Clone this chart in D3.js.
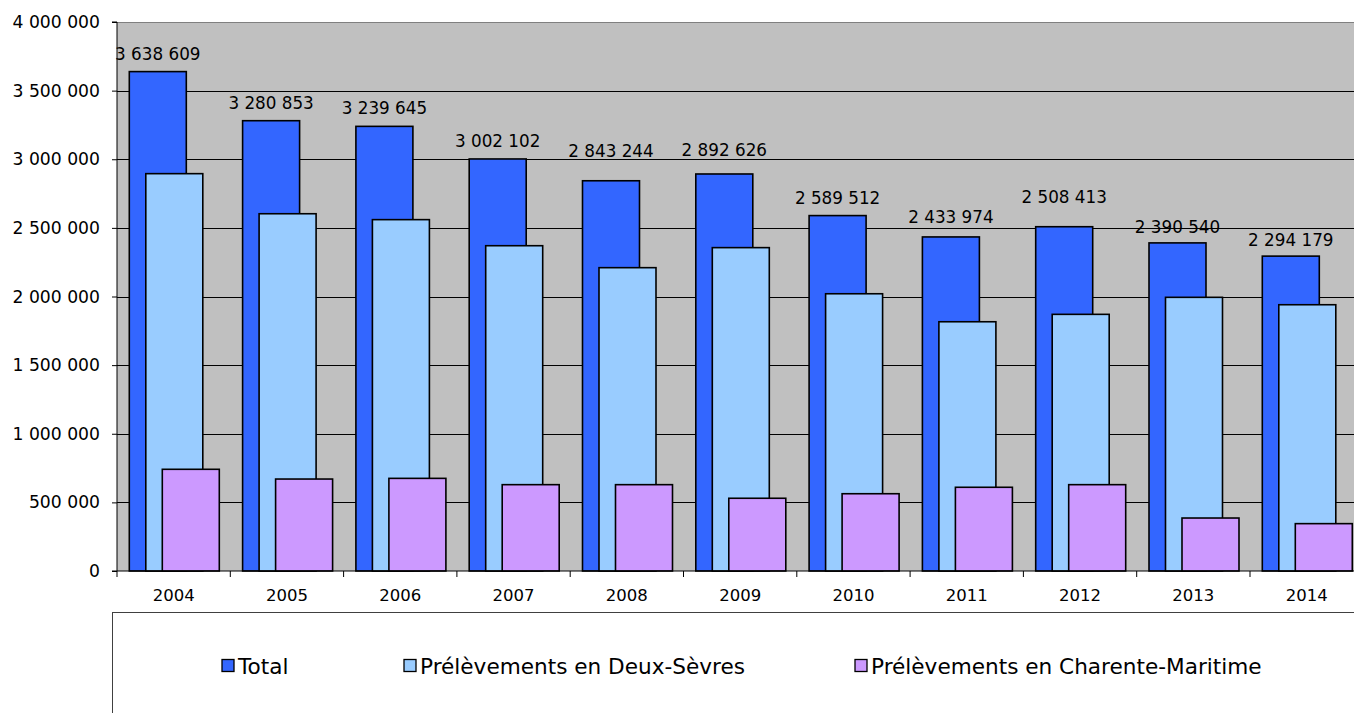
<!DOCTYPE html>
<html>
<head>
<meta charset="utf-8">
<script src="https://cdn.jsdelivr.net/npm/d3@7"></script>
<style>
  html, body { margin: 0; padding: 0; background: #ffffff; overflow: hidden; }
  svg { display: block; }
</style>
</head>
<body>
<svg id="chart" width="1354" height="713"></svg>
<script>
// ---- data ----
const years = ["2004","2005","2006","2007","2008","2009","2010","2011","2012","2013","2014"];
const total = [3638609, 3280853, 3239645, 3002102, 2843244, 2892626, 2589512, 2433974, 2508413, 2390540, 2294179];
const deuxSevres = [2895000, 2603000, 2560000, 2370000, 2210000, 2356000, 2020000, 1816000, 1870000, 1994000, 1940000];
const charenteMaritime = [741000, 670000, 675000, 629000, 629000, 530000, 563000, 610000, 629000, 386000, 345000];
const yTicks = [0, 500000, 1000000, 1500000, 2000000, 2500000, 3000000, 3500000, 4000000];
const seriesNames = ["Total", "Prélèvements en Deux-Sèvres", "Prélèvements en Charente-Maritime"];

// ---- layout ----
const colors = ["#3366FF", "#99CCFF", "#CC99FF"];
const labelLift = [0, 0, 1, 0, 12, 6, 0, 2, 12, -2, -2]; // extra label offsets (px) as placed in the original
const pLeft = 117, pTop = 22, pBottom = 571, catW = 113.3;
const pRight = pLeft + catW * years.length;
const fmt = v => d3.format(",")(v).replace(/,/g, " ");
const FONT = "DejaVu Sans, Verdana, sans-serif";

const svg = d3.select("#chart");
const x = d3.scaleBand().domain(years).range([pLeft, pRight]).padding(0);
const y = d3.scaleLinear().domain([0, 4000000]).range([pBottom, pTop]);

// plot background
svg.append("rect").attr("x", pLeft).attr("y", pTop).attr("width", pRight - pLeft).attr("height", pBottom - pTop)
  .attr("fill", "#C0C0C0");

// gridlines
svg.append("g").selectAll("line").data(yTicks.filter(d => d > 0 && d < 4000000)).join("line")
  .attr("x1", pLeft).attr("x2", pRight)
  .attr("y1", d => Math.round(y(d)) + 0.5).attr("y2", d => Math.round(y(d)) + 0.5)
  .attr("stroke", "#000").attr("stroke-width", 1);
svg.append("line").attr("x1", pLeft).attr("x2", pRight).attr("y1", pTop + 0.5).attr("y2", pTop + 0.5)
  .attr("stroke", "#808080").attr("stroke-width", 1.2);

// bars
const barFrac = 57 / 113.3, startFrac = 12.3 / 113.3, stepFrac = 16.5 / 113.3;
const series = [total, deuxSevres, charenteMaritime];
series.forEach((vals, si) => {
  svg.append("g").selectAll("rect").data(vals).join("rect")
    .attr("x", (d, i) => x(years[i]) + x.bandwidth() * (startFrac + si * stepFrac))
    .attr("y", d => y(d))
    .attr("width", x.bandwidth() * barFrac)
    .attr("height", d => y(0) - y(d))
    .attr("fill", colors[si])
    .attr("stroke", "#000").attr("stroke-width", 1.6);
});

// value labels for total
svg.append("g").selectAll("text").data(total).join("text")
  .attr("x", (d, i) => x(years[i]) + x.bandwidth() * (startFrac + barFrac / 2))
  .attr("y", (d, i) => y(d) - 11.7 - labelLift[i])
  .attr("text-anchor", "middle")
  .attr("font-family", FONT)
  .attr("font-size", "16.8px")
  .attr("fill", "#000")
  .text(d => fmt(d));

// y axis
const yAxis = d3.axisLeft(y).tickValues(yTicks).tickSize(5).tickPadding(12).tickFormat(fmt);
const gy = svg.append("g").attr("transform", `translate(${pLeft},0)`).call(yAxis);
gy.select(".domain").attr("stroke", "#000").attr("d", `M-5,${pBottom}H0V${pTop}H-5`);
gy.selectAll(".tick line").attr("stroke", "#000");
gy.selectAll("text").attr("font-family", FONT).attr("font-size", "17.2px").attr("fill", "#000");

// x axis
svg.append("line").attr("x1", pLeft).attr("x2", pRight).attr("y1", pBottom).attr("y2", pBottom).attr("stroke", "#000");
svg.append("g").selectAll("line").data(d3.range(years.length + 1)).join("line")
  .attr("x1", i => pLeft + i * x.bandwidth()).attr("x2", i => pLeft + i * x.bandwidth())
  .attr("y1", pBottom).attr("y2", pBottom + 6).attr("stroke", "#000");
svg.append("g").selectAll("text").data(years).join("text")
  .attr("x", d => x(d) + x.bandwidth() / 2)
  .attr("y", 601)
  .attr("text-anchor", "middle")
  .attr("font-family", FONT)
  .attr("font-size", "16.5px")
  .attr("fill", "#000")
  .text(d => d);

// legend
svg.append("rect").attr("x", 112.5).attr("y", 612.5).attr("width", 1400).attr("height", 300)
  .attr("fill", "#fff").attr("stroke", "#404040").attr("stroke-width", 1);
const legX = [222, 404, 855];
const lg = svg.append("g").selectAll("g").data(seriesNames).join("g");
lg.append("rect")
  .attr("x", (d, i) => legX[i]).attr("y", 659.5).attr("width", 12).attr("height", 12)
  .attr("fill", (d, i) => colors[i]).attr("stroke", "#000").attr("stroke-width", 1.3);
lg.append("text")
  .attr("x", (d, i) => legX[i] + 16).attr("y", 673.5)
  .attr("font-family", FONT)
  .attr("font-size", "21.6px")
  .attr("fill", "#000")
  .text(d => d);
</script>
</body>
</html>
